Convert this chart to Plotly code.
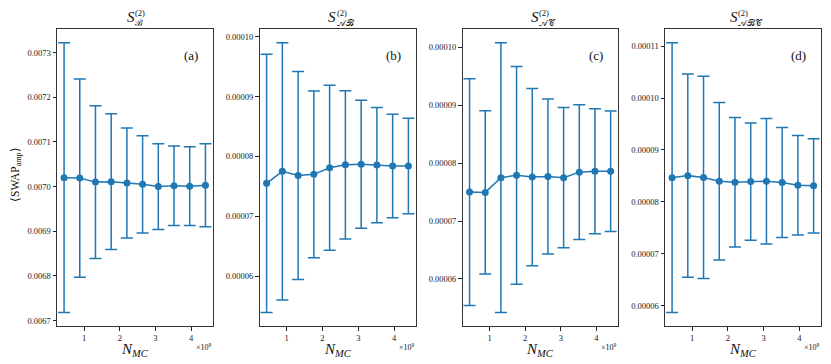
import plotly.graph_objects as go

# ---- data ----
n_mc = [0.44e9, 0.88e9, 1.32e9, 1.76e9, 2.20e9, 2.64e9, 3.08e9, 3.52e9, 3.96e9, 4.40e9]

mean_a = [0.007020, 0.007019, 0.007010, 0.007011, 0.007008, 0.007005, 0.007000, 0.007002, 0.007001, 0.007003]
err_a = [0.000302, 0.000222, 0.000171, 0.000152, 0.000123, 0.000109, 0.000096, 0.000089, 0.000088, 0.000093]

mean_b = [7.55e-5, 7.75e-5, 7.68e-5, 7.70e-5, 7.81e-5, 7.86e-5, 7.87e-5, 7.855e-5, 7.84e-5, 7.84e-5]
err_b = [2.16e-5, 2.15e-5, 1.74e-5, 1.395e-5, 1.38e-5, 1.24e-5, 1.07e-5, 0.965e-5, 0.865e-5, 0.80e-5]

mean_c = [7.50e-5, 7.495e-5, 7.75e-5, 7.79e-5, 7.76e-5, 7.77e-5, 7.75e-5, 7.845e-5, 7.86e-5, 7.86e-5]
err_c = [1.96e-5, 1.41e-5, 2.33e-5, 1.88e-5, 1.53e-5, 1.34e-5, 1.21e-5, 1.165e-5, 1.08e-5, 1.04e-5]

mean_d = [8.466e-5, 8.505e-5, 8.47e-5, 8.397e-5, 8.378e-5, 8.39e-5, 8.397e-5, 8.372e-5, 8.32e-5, 8.308e-5]
err_d = [2.60e-5, 1.96e-5, 1.95e-5, 1.52e-5, 1.25e-5, 1.13e-5, 1.21e-5, 1.06e-5, 0.96e-5, 0.91e-5]

x_tickvals = [1e9, 2e9, 3e9, 4e9]
x_ticktext = ["1", "2", "3", "4"]

titles_sub = ["\u212C", "\U0001D49C\u212C", "\U0001D49C\U0001D49E", "\U0001D49C\u212C\U0001D49E"]
panel_labels = ["(a)", "(b)", "(c)", "(d)"]
y_dticks = [0.0001, 1e-5, 1e-5, 1e-5]
y_formats = [".4f", ".5f", ".5f", ".5f"]

# ---- layout geometry (page pixels) ----
PAGE_W, PAGE_H = 831, 364
OFF = 8  # default body margin of the html page
W, H = PAGE_W - OFF, PAGE_H - OFF
lefts = [57.0, 259.5, 462.5, 665.0]
rights = [212.5, 415.5, 617.7, 820.7]
top_px, bot_px = 29.3, 326.0
FONT = "Liberation Serif"
BLUE = "#1f77b4"

def px(x):
    return (x - OFF) / W

def py(y):
    return 1 - (y - OFF) / H

fig = go.Figure()
annotations = []
means = [mean_a, mean_b, mean_c, mean_d]
errs = [err_a, err_b, err_c, err_d]

xmin_d, xmax_d = min(n_mc), max(n_mc)
xpad = 0.05 * (xmax_d - xmin_d)

def ann(x, y, text, size, **kw):
    d = dict(x=px(x), y=py(y), xref="paper", yref="paper", text=text, showarrow=False,
             xanchor="center", yanchor="middle",
             font=dict(family=FONT, size=size, color="#111"))
    d.update(kw)
    annotations.append(d)

for i in range(4):
    xa = "x" if i == 0 else f"x{i+1}"
    ya = "y" if i == 0 else f"y{i+1}"
    fig.add_trace(go.Scatter(
        x=n_mc, y=means[i], xaxis=xa, yaxis=ya, mode="lines+markers",
        line=dict(color=BLUE, width=1.5),
        marker=dict(color=BLUE, size=7),
        error_y=dict(type="data", array=errs[i], symmetric=True,
                     color=BLUE, thickness=1.5, width=6),
        showlegend=False,
    ))
    lo = min(m - e for m, e in zip(means[i], errs[i]))
    hi = max(m + e for m, e in zip(means[i], errs[i]))
    ypad = 0.05 * (hi - lo)
    axis_common = dict(showline=True, mirror=True, linecolor="#333", linewidth=1,
                       ticks="outside", ticklen=3.5, tickwidth=0.8, tickcolor="#222",
                       showgrid=False, zeroline=False,
                       tickfont=dict(family=FONT, size=8.5, color="#222"))
    fig.layout[f"xaxis{'' if i == 0 else i+1}"] = dict(
        domain=[px(lefts[i]), px(rights[i])], anchor=ya,
        range=[xmin_d - xpad, xmax_d + xpad],
        tickvals=x_tickvals, ticktext=x_ticktext, **axis_common)
    fig.layout[f"yaxis{'' if i == 0 else i+1}"] = dict(
        domain=[py(bot_px), py(top_px)], anchor=xa,
        range=[lo - ypad, hi + ypad], dtick=y_dticks[i], tickformat=y_formats[i],
        **axis_common)

    cx = (lefts[i] + rights[i]) / 2
    sub_w = 7.5 * len(titles_sub[i]) if i else 7.5
    total = 8 + max(sub_w, 12)
    sx = cx - total / 2
    ann(sx, 17, "<i>S</i>", 15, xanchor="left")
    ann(sx + 8.5, 13, "(2)", 8.5, xanchor="left")
    ann(sx + 8.5, 23.5, titles_sub[i], 9, xanchor="left")
    ann(rights[i] - 22, 55, panel_labels[i], 13)
    ann(cx, 350, "<i>N</i><sub><i>MC</i></sub>", 15)
    ann(rights[i] + 1, 347, "\u00d710<sup>9</sup>", 8, xanchor="right")

ann(16, 175, "\u27e8SWAP<sub>amp</sub>\u27e9", 11.5, textangle=-90)

fig.update_layout(width=W, height=H, margin=dict(l=0, r=0, t=0, b=0),
                  paper_bgcolor="white", plot_bgcolor="white",
                  annotations=annotations, font=dict(family=FONT))

fig.write_html("out.html")
